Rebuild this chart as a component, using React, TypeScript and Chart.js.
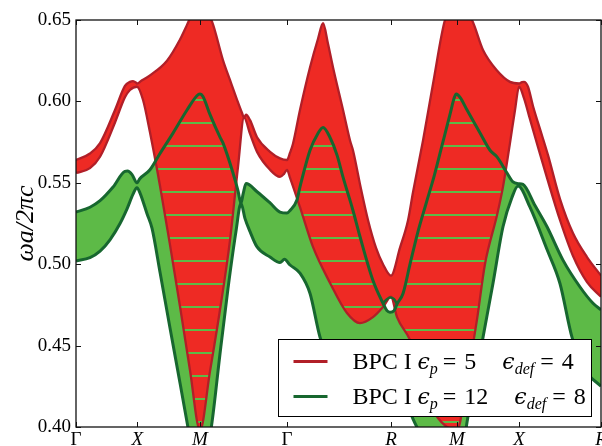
import { useEffect, useRef } from 'react';
import { Chart, registerables } from 'chart.js';

Chart.register(...registerables);

type Pt = [number, number];

// High-symmetry points along Γ–X–M–Γ–R–M–X–R (path length, 2π/a units)
const kPoints = [0, 0.5, 1.011, 1.72, 2.568, 3.106, 3.612, 4.28];
const kLabels = ['Γ', 'X', 'M', 'Γ', 'R', 'M', 'X', 'R'];
const freqTicks = [0.4, 0.45, 0.5, 0.55, 0.6, 0.65];

// BPC I, ε_p = 5, ε_def = 4 : lower / upper edge of the band
const red5Lower: Pt[] = [
  [0, 0.556], [0.114, 0.559], [0.196, 0.566], [0.318, 0.587], [0.399, 0.6025], [0.44, 0.607], [0.497, 0.609],
  [0.546, 0.601], [0.603, 0.581], [0.685, 0.548], [0.766, 0.512], [0.848, 0.474], [0.929, 0.435], [1.011, 0.398],
  [1.092, 0.434], [1.174, 0.472], [1.256, 0.515], [1.321, 0.56], [1.37, 0.59],
  [1.419, 0.58], [1.476, 0.569], [1.582, 0.558], [1.663, 0.5536], [1.696, 0.5555], [1.72, 0.558], [1.745, 0.553],
  [1.826, 0.535], [1.932, 0.5106], [2.071, 0.4885], [2.209, 0.47], [2.315, 0.4638], [2.421, 0.4675], [2.503, 0.4737], [2.568, 0.48],
  [2.617, 0.4675], [2.723, 0.4535], [2.829, 0.43], [2.911, 0.4106], [3.008, 0.401], [3.106, 0.398],
  [3.188, 0.43], [3.269, 0.466], [3.334, 0.5], [3.432, 0.53], [3.481, 0.5475], [3.538, 0.5744], [3.579, 0.5947], [3.612, 0.609],
  [3.652, 0.602], [3.701, 0.589], [3.766, 0.572], [3.84, 0.553], [3.946, 0.527], [4.052, 0.505], [4.166, 0.489], [4.28, 0.48],
];
const red5Upper: Pt[] = [
  [0, 0.564], [0.114, 0.568], [0.196, 0.5744], [0.318, 0.5947], [0.399, 0.6095], [0.44, 0.612], [0.465, 0.6125], [0.49, 0.6115], [0.497, 0.611],
  [0.53, 0.6125], [0.603, 0.616], [0.742, 0.625], [0.848, 0.638], [0.905, 0.647], [0.954, 0.655], [1.011, 0.66],
  [1.06, 0.655], [1.109, 0.649], [1.198, 0.6254], [1.256, 0.613], [1.313, 0.601], [1.353, 0.593], [1.37, 0.59],
  [1.386, 0.5918], [1.419, 0.5885], [1.476, 0.578], [1.582, 0.569], [1.663, 0.565], [1.72, 0.564],
  [1.745, 0.5685], [1.769, 0.574], [1.826, 0.5947], [1.908, 0.621], [1.973, 0.6385], [2.014, 0.648], [2.054, 0.6355],
  [2.095, 0.621], [2.177, 0.5947], [2.234, 0.576], [2.258, 0.57], [2.324, 0.546], [2.381, 0.527], [2.446, 0.51], [2.503, 0.5], [2.568, 0.493],
  [2.641, 0.51], [2.707, 0.527], [2.747, 0.544], [2.829, 0.576], [2.911, 0.611], [3.008, 0.65], [3.065, 0.657], [3.106, 0.66],
  [3.147, 0.657], [3.228, 0.65], [3.318, 0.6316], [3.432, 0.619], [3.538, 0.612], [3.612, 0.611],
  [3.636, 0.6118], [3.652, 0.612], [3.685, 0.609], [3.726, 0.597], [3.783, 0.583], [3.848, 0.567], [3.946, 0.54], [4.052, 0.519], [4.166, 0.5044], [4.28, 0.493],
];

// BPC I, ε_p = 12, ε_def = 8 : lower / upper edge of the band
const green12Lower: Pt[] = [
  [0, 0.502], [0.114, 0.504], [0.196, 0.508], [0.277, 0.515], [0.359, 0.525], [0.416, 0.534], [0.465, 0.543], [0.497, 0.547],
  [0.522, 0.5437], [0.579, 0.531], [0.62, 0.522], [0.685, 0.495], [0.766, 0.461], [0.848, 0.427], [0.929, 0.393], [1.011, 0.36],
  [1.109, 0.403], [1.174, 0.445], [1.239, 0.485], [1.304, 0.52], [1.345, 0.5375],
  [1.378, 0.528], [1.419, 0.52], [1.476, 0.5106], [1.582, 0.5044], [1.663, 0.501], [1.7, 0.503], [1.745, 0.4995],
  [1.826, 0.4945], [1.908, 0.482], [1.989, 0.4553], [2.07, 0.44], [2.2, 0.43], [2.35, 0.427], [2.568, 0.425],
  [2.68, 0.418], [2.747, 0.405], [2.85, 0.39], [2.97, 0.375], [3.106, 0.36],
  [3.188, 0.403], [3.318, 0.455], [3.4, 0.4885], [3.481, 0.523], [3.554, 0.541], [3.604, 0.548],
  [3.701, 0.535], [3.84, 0.509], [3.946, 0.488], [4.044, 0.455], [4.15, 0.435], [4.28, 0.425],
];
const green12Upper: Pt[] = [
  [0, 0.532], [0.114, 0.535], [0.196, 0.539], [0.302, 0.5474], [0.399, 0.557], [0.42, 0.5572], [0.457, 0.555], [0.497, 0.55],
  [0.52, 0.5525], [0.603, 0.558], [0.685, 0.568], [0.791, 0.5805], [0.905, 0.5947], [0.986, 0.6035], [1.011, 0.6045],
  [1.035, 0.603], [1.092, 0.592], [1.174, 0.578], [1.198, 0.5745], [1.28, 0.556], [1.321, 0.545], [1.345, 0.5375],
  [1.362, 0.543], [1.386, 0.5495], [1.476, 0.5445], [1.582, 0.5376], [1.663, 0.532], [1.72, 0.5314],
  [1.745, 0.533], [1.801, 0.5394], [1.826, 0.5475], [1.908, 0.57], [1.97, 0.58], [2.014, 0.584], [2.07, 0.578],
  [2.128, 0.567], [2.177, 0.5535], [2.258, 0.533], [2.315, 0.517], [2.421, 0.49], [2.503, 0.476],
  [2.535, 0.4715], [2.56, 0.4705], [2.593, 0.4715], [2.617, 0.4755],
  [2.666, 0.482], [2.723, 0.5], [2.788, 0.52], [2.853, 0.537], [2.919, 0.554], [2.984, 0.573], [3.049, 0.592], [3.085, 0.6025], [3.1, 0.6045],
  [3.131, 0.6025], [3.188, 0.5947], [3.294, 0.5806], [3.375, 0.57], [3.432, 0.5659], [3.514, 0.556], [3.563, 0.5505], [3.604, 0.5495],
  [3.644, 0.549], [3.742, 0.536], [3.84, 0.523], [3.97, 0.5025], [4.109, 0.486], [4.215, 0.476], [4.28, 0.472],
];
// second branch closing the small loop around R
const green12Loop: Pt[] = [[2.503, 0.476], [2.535, 0.4785], [2.56, 0.4795], [2.593, 0.4785], [2.617, 0.4755]];

const legendRows = [
  { name: 'BPC I', epsP: '5', epsDef: '4' },
  { name: 'BPC I', epsP: '12', epsDef: '8' },
];

const RED_FILL = '#ee2a24';
const RED_EDGE = '#b11f28';
const GREEN_FILL = '#5dba47';
const GREEN_EDGE = '#17672f';
const SERIF = '"Liberation Serif", "DejaVu Serif", serif';
const MATH = '"DejaVu Serif", "Liberation Serif", serif';

const axesFrame = {
  id: 'axesFrame',
  afterDatasetsDraw(chart: any) {
    const { ctx, chartArea: a, scales } = chart;
    ctx.save();
    ctx.strokeStyle = '#111';
    ctx.lineWidth = 1;
    ctx.beginPath();
    for (const k of kPoints) {
      const x = Math.round(scales.x.getPixelForValue(k)) + 0.5;
      ctx.moveTo(x, a.top); ctx.lineTo(x, a.top + 5);
      ctx.moveTo(x, a.bottom); ctx.lineTo(x, a.bottom - 5);
    }
    for (const v of freqTicks) {
      const y = Math.round(scales.y.getPixelForValue(v)) + 0.5;
      ctx.moveTo(a.left, y); ctx.lineTo(a.left + 5, y);
      ctx.moveTo(a.right, y); ctx.lineTo(a.right - 5, y);
    }
    ctx.stroke();
    ctx.lineWidth = 1.3;
    ctx.strokeRect(a.left, a.top, a.right - a.left, a.bottom - a.top);
    ctx.restore();
  },
};

const bandLegend = {
  id: 'bandLegend',
  afterDraw(chart: any) {
    const { ctx, chartArea: a } = chart;
    const bx = Math.round(a.right - 323) + 0.5;
    const by = Math.round(a.bottom - 88) + 0.5;
    const bw = 313, bh = 77;
    ctx.save();
    ctx.fillStyle = '#fff';
    ctx.fillRect(bx, by, bw, bh);
    ctx.strokeStyle = '#000';
    ctx.lineWidth = 1;
    ctx.strokeRect(bx, by, bw, bh);
    const colors = [RED_EDGE, GREEN_EDGE];
    legendRows.forEach((row, i) => {
      const cy = by + 22 + i * 35;
      ctx.strokeStyle = colors[i];
      ctx.lineWidth = 3;
      ctx.beginPath();
      ctx.moveTo(bx + 15, cy); ctx.lineTo(bx + 49, cy);
      ctx.stroke();
      const base = cy + 7;
      ctx.fillStyle = '#000';
      ctx.textBaseline = 'alphabetic';
      let x = bx + 74;
      const put = (t: string, font: string, dy = 0) => {
        ctx.font = font;
        ctx.fillText(t, x, base + dy);
        x += ctx.measureText(t).width;
      };
      put(row.name, `24px ${SERIF}`);
      x = bx + 139;
      put('ϵ', `italic 22px ${MATH}`);
      put('p', `italic 16px ${SERIF}`, 5);
      x += 5;
      put('=', `24px ${SERIF}`);
      x += 8;
      put(row.epsP, `24px ${SERIF}`);
      x += 26;
      put('ϵ', `italic 22px ${MATH}`);
      put('def', `italic 16px ${SERIF}`, 5);
      x += 6;
      put('=', `24px ${SERIF}`);
      x += 8;
      put(row.epsDef, `24px ${SERIF}`);
    });
    ctx.restore();
  },
};

export default function App() {
  const ref = useRef<HTMLCanvasElement>(null);
  useEffect(() => {
    const canvas = ref.current!;
    const tile = document.createElement('canvas');
    tile.width = 4;
    tile.height = 23;
    const tctx = tile.getContext('2d')!;
    tctx.fillStyle = GREEN_FILL;
    tctx.fillRect(0, 7, 4, 2);
    const hatch = canvas.getContext('2d')!.createPattern(tile, 'repeat')!;

    const xy = (pts: Pt[]) => pts.map(([x, y]) => ({ x, y }));
    const common = { pointRadius: 0, pointHoverRadius: 0, cubicInterpolationMode: 'monotone' as const, clip: 0 };

    const chart = new Chart(canvas, {
      type: 'line',
      data: {
        datasets: [
          { ...common, data: xy(green12Upper), borderWidth: 0, backgroundColor: GREEN_FILL, fill: { target: 4 }, order: 10 },
          { ...common, data: xy(red5Upper), borderWidth: 0, backgroundColor: RED_FILL, fill: { target: 3 }, order: 9 },
          { ...common, data: xy(green12Upper), borderWidth: 0, backgroundColor: hatch as any, fill: { target: 4 }, order: 8 },
          { ...common, label: 'BPC I εp=5 lower', data: xy(red5Lower), borderColor: RED_EDGE, borderWidth: 2.3, fill: false, order: 5 },
          { ...common, label: 'BPC I εp=12 lower', data: xy(green12Lower), borderColor: GREEN_EDGE, borderWidth: 3, fill: false, order: 2 },
          { ...common, label: 'BPC I εp=5 upper', data: xy(red5Upper), borderColor: RED_EDGE, borderWidth: 2.3, fill: false, order: 5 },
          { ...common, label: 'BPC I εp=12 upper', data: xy(green12Upper), borderColor: GREEN_EDGE, borderWidth: 3, fill: false, order: 2 },
          { ...common, label: 'loop', data: xy(green12Loop), borderColor: GREEN_EDGE, borderWidth: 2.5, fill: false, order: 2 },
        ],
      },
      options: {
        animation: false,
        responsive: false,
        events: [],
        layout: { padding: { left: 0, right: 1, top: 20, bottom: 0 } },
        plugins: {
          legend: { display: false },
          tooltip: { enabled: false },
          filler: { propagate: false },
        },
        scales: {
          x: {
            type: 'linear',
            min: 0,
            max: 4.28,
            grid: { display: false, drawTicks: false },
            border: { display: false },
            afterBuildTicks: (s: any) => { s.ticks = kPoints.map((v) => ({ value: v })); },
            afterFit: (s: any) => { s.height = 19; s.paddingLeft = 0; s.paddingRight = 0; },
            ticks: {
              autoSkip: false,
              maxRotation: 0,
              padding: 2,
              color: '#000',
              callback: (_v: any, i: number) => kLabels[i],
              font: (c: any) => ({ family: SERIF, size: 19, style: kLabels[c.index] === 'Γ' ? 'normal' : 'italic' }),
            },
          },
          y: {
            type: 'linear',
            min: 0.4,
            max: 0.65,
            grid: { display: false, drawTicks: false },
            border: { display: false },
            afterBuildTicks: (s: any) => { s.ticks = freqTicks.map((v) => ({ value: v })); },
            afterFit: (s: any) => { s.width = 76; s.paddingTop = 0; s.paddingBottom = 0; },
            ticks: {
              padding: 5,
              color: '#000',
              font: { family: SERIF, size: 19 },
              callback: (v: any) => Number(v).toFixed(2),
            },
            title: {
              display: true,
              text: 'ωa/2πc',
              color: '#000',
              font: { family: SERIF, size: 26, style: 'italic' },
              padding: { top: 11, bottom: 0 },
            },
          },
        },
      },
      plugins: [axesFrame, bandLegend],
    });
    return () => chart.destroy();
  }, []);

  return (
    <div style={{ position: 'fixed', left: 0, top: 0, width: 602, height: 446, background: '#fff' }}>
      <canvas ref={ref} width={602} height={446} style={{ display: 'block' }} />
    </div>
  );
}
